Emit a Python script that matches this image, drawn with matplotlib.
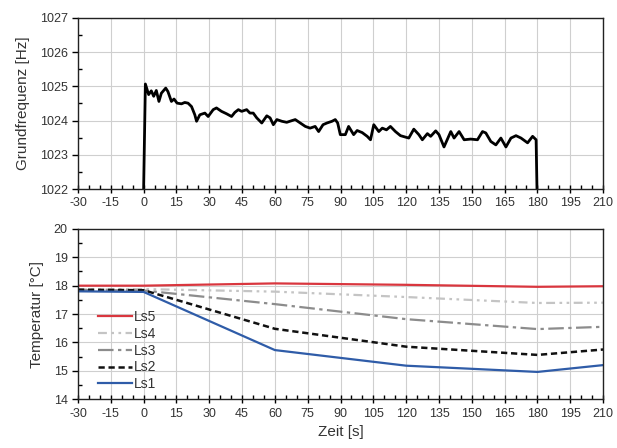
import matplotlib
matplotlib.use("Agg")
import matplotlib.pyplot as plt
from matplotlib.ticker import MultipleLocator

plt.rcParams['font.family'] = ['Liberation Sans', 'DejaVu Sans']

# --- top: fundamental frequency ---
freq_t = [0.0, 0.8, 2.3, 3.5, 4.6, 5.8, 7.0, 8.1, 10.1, 11.1, 12.7, 13.9, 15.3, 17.3, 18.8,
          20.3, 21.9, 23.4, 24.2, 25.7, 28.0, 29.5, 31.8, 33.3, 35.6, 37.9, 40.2, 41.7,
          43.3, 44.8, 47.1, 48.6, 50.1, 51.7, 54.0, 56.3, 57.8, 59.3, 60.9, 63.2, 65.4,
          67.8, 69.3, 71.6, 73.9, 76.1, 78.4, 80.0, 82.0, 83.8, 86.1, 87.6, 88.7, 89.9,
          92.2, 93.7, 96.0, 97.6, 99.9, 102.2, 103.7, 105.2, 107.5, 109.1, 111.0, 112.8,
          115.1, 117.4, 121.2, 123.5, 125.8, 127.4, 129.7, 131.2, 133.5, 135.0, 137.3,
          140.4, 141.9, 144.2, 146.5, 149.5, 152.6, 154.9, 156.4, 158.7, 161.0, 163.3,
          165.6, 167.9, 170.2, 172.5, 175.5, 177.8, 179.4, 179.8]
freq_hz = [1022.0, 1025.07, 1024.76, 1024.87, 1024.71, 1024.88, 1024.56, 1024.80, 1024.95,
           1024.85, 1024.56, 1024.63, 1024.51, 1024.49, 1024.53, 1024.51, 1024.41, 1024.17,
           1023.98, 1024.17, 1024.22, 1024.12, 1024.32, 1024.37, 1024.27, 1024.20, 1024.12,
           1024.24, 1024.32, 1024.27, 1024.32, 1024.22, 1024.22, 1024.08, 1023.93, 1024.14,
           1024.08, 1023.88, 1024.03, 1023.98, 1023.95, 1024.00, 1024.03, 1023.93, 1023.83,
           1023.78, 1023.83, 1023.68, 1023.88, 1023.93, 1023.98, 1024.03, 1023.93, 1023.59,
           1023.59, 1023.83, 1023.59, 1023.71, 1023.65, 1023.54, 1023.44, 1023.88, 1023.68,
           1023.78, 1023.73, 1023.83, 1023.68, 1023.56, 1023.49, 1023.75, 1023.59, 1023.44,
           1023.62, 1023.54, 1023.70, 1023.59, 1023.23, 1023.68, 1023.49, 1023.68, 1023.44,
           1023.46, 1023.44, 1023.68, 1023.64, 1023.39, 1023.29, 1023.49, 1023.23, 1023.49,
           1023.56, 1023.49, 1023.35, 1023.54, 1023.44, 1022.0]

# --- bottom: temperatures ---
temp_t = [-30, 0, 60, 120, 180, 210]
ls5 = [18.00, 18.00, 18.08, 18.03, 17.96, 17.98]
ls4 = [17.86, 17.88, 17.79, 17.60, 17.39, 17.40]
ls3 = [17.85, 17.83, 17.35, 16.82, 16.47, 16.55]
ls2 = [17.86, 17.84, 16.48, 15.85, 15.56, 15.75]
ls1 = [17.80, 17.78, 15.73, 15.18, 14.96, 15.20]
series_labels = ['Ls5', 'Ls4', 'Ls3', 'Ls2', 'Ls1']

xticks = list(range(-30, 211, 15))

fig = plt.figure(figsize=(6.17, 4.48), dpi=100)
ax1 = fig.add_axes([0.1264, 0.578, 0.851, 0.382])
ax2 = fig.add_axes([0.1264, 0.109, 0.851, 0.380])

text_c = '#333333'
grid_c = '#cfcfcf'

for ax in (ax1, ax2):
    ax.set_xlim(-30, 210)
    ax.set_xticks(xticks)
    ax.set_xticklabels([str(v) for v in xticks])
    ax.xaxis.set_minor_locator(MultipleLocator(5))
    ax.grid(True, which='major', color=grid_c, lw=0.8)
    ax.set_axisbelow(True)
    ax.tick_params(axis='x', which='major', direction='inout', length=6, width=1,
                   labelsize=9, labelcolor=text_c, pad=3)
    ax.tick_params(axis='x', which='minor', direction='in', length=3, width=1)
    ax.tick_params(axis='y', which='major', direction='out', length=4, width=1,
                   labelsize=9, labelcolor=text_c)
    ax.tick_params(axis='y', which='minor', direction='in', length=3, width=1)
    for s in ax.spines.values():
        s.set_linewidth(1.0)
        s.set_color('#222222')

ax1.plot(freq_t, freq_hz, color='black', lw=2.0)
ax1.set_ylim(1022, 1027)
ax1.set_yticks([1022, 1023, 1024, 1025, 1026, 1027])
ax1.yaxis.set_minor_locator(MultipleLocator(0.5))
ax1.set_ylabel('Grundfrequenz [Hz]', fontsize=11, color=text_c, labelpad=7)

ax2.plot(temp_t, ls5, color='#d9363e', lw=1.6, label=series_labels[0])
ax2.plot(temp_t, ls4, color='#c4c4c4', lw=1.6, dashes=(4, 2, 1.2, 2, 1.2, 2), label=series_labels[1])
ax2.plot(temp_t, ls3, color='#8c8c8c', lw=1.6, dashes=(7, 2, 1.5, 2), label=series_labels[2])
ax2.plot(temp_t, ls2, color='#111111', lw=1.8, dashes=(2.5, 1.5), label=series_labels[3])
ax2.plot(temp_t, ls1, color='#2f5ca8', lw=1.6, label=series_labels[4])
ax2.set_ylim(14, 20)
ax2.set_yticks([14, 15, 16, 17, 18, 19, 20])
ax2.yaxis.set_minor_locator(MultipleLocator(0.5))
ax2.set_ylabel('Temperatur [°C]', fontsize=11, color=text_c, labelpad=7)
ax2.set_xlabel('Zeit [s]', fontsize=11, color=text_c, labelpad=4)

leg = ax2.legend(loc='upper left', bbox_to_anchor=(0.02, 0.58), frameon=False,
                 fontsize=10, handlelength=2.4, handletextpad=0.2,
                 labelspacing=0.2, borderaxespad=0.3)
for t in leg.get_texts():
    t.set_color(text_c)

fig.savefig('out.png', dpi=100)
